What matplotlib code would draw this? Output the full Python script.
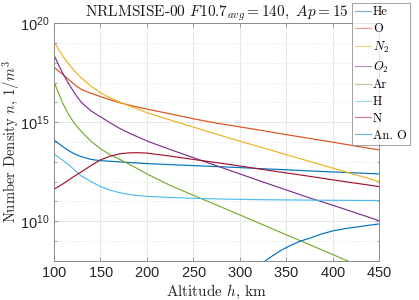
import numpy as np
import matplotlib
matplotlib.use("Agg")
import matplotlib.pyplot as plt
from matplotlib.ticker import FixedLocator, FixedFormatter, NullFormatter

plt.rcParams['mathtext.fontset'] = 'cm'
plt.rcParams['font.family'] = ['Liberation Sans', 'DejaVu Sans']
plt.rcParams['axes.formatter.use_mathtext'] = True

# Altitude grid (km)
alt = [100, 105, 110, 115, 120, 125, 130, 140, 150, 160, 170, 180, 190, 200,
       225, 250, 275, 300, 325, 350, 375, 400, 425, 450]

# log10 of number density (1/m^3)
he = [14.11, 13.92, 13.75, 13.59, 13.45, 13.34, 13.25, 13.12, 13.06, 13.03, 13.00, 12.97, 12.94, 12.91,
      12.86, 12.81, 12.76, 12.71, 12.65, 12.60, 12.54, 12.49, 12.44, 12.39]
o = [17.77, 17.58, 17.38, 17.18, 16.98, 16.79, 16.64, 16.45, 16.29, 16.13, 15.99, 15.87, 15.76, 15.66,
     15.42, 15.17, 14.95, 14.76, 14.57, 14.37, 14.18, 13.99, 13.79, 13.60]
n2 = [19.06, 18.67, 18.30, 17.98, 17.69, 17.43, 17.21, 16.80, 16.49, 16.24, 16.02, 15.84, 15.66, 15.48,
      15.11, 14.75, 14.39, 14.04, 13.70, 13.36, 13.02, 12.68, 12.34, 12.00]
o2 = [18.39, 17.88, 17.42, 17.00, 16.62, 16.27, 15.97, 15.56, 15.27, 14.98, 14.70, 14.47, 14.26, 14.05,
      13.62, 13.21, 12.80, 12.39, 11.98, 11.58, 11.18, 10.81, 10.42, 10.03]
ar = [17.04, 16.45, 15.90, 15.45, 15.07, 14.76, 14.50, 14.03, 13.66, 13.37, 13.14, 12.90, 12.65, 12.39,
      11.81, 11.31, 10.82, 10.32, 9.82, 9.32, 8.82, 8.32, 7.82, 7.32]
h = [13.39, 13.23, 13.06, 12.88, 12.68, 12.46, 12.27, 12.00, 11.75, 11.58, 11.45, 11.36, 11.30, 11.26,
     11.20, 11.16, 11.13, 11.11, 11.09, 11.08, 11.07, 11.06, 11.055, 11.05]
n = [11.62, 11.76, 11.90, 12.06, 12.22, 12.37, 12.51, 12.82, 13.10, 13.28, 13.40, 13.45, 13.46, 13.44,
     13.29, 13.12, 12.96, 12.79, 12.61, 12.44, 12.27, 12.09, 11.92, 11.75]

alt_ano = [320, 327, 335, 345, 355, 365, 375, 387, 400, 414, 425, 437, 450]
ano = [7.76, 8.00, 8.26, 8.56, 8.80, 9.00, 9.15, 9.35, 9.52, 9.64, 9.71, 9.79, 9.87]

labels = ['He', 'O', '$N_2$', '$O_2$', 'Ar', 'H', 'N', 'An. O']
colors = ['#0072BD', '#D95319', '#EDB120', '#7E2F8E', '#77AC30', '#4DBEEE', '#A2142F', '#0072BD']

xticks = [100, 150, 200, 250, 300, 350, 400, 450]
yticks_major = [1e10, 1e15, 1e20]
ytick_labels = [r'$\mathdefault{10^{10}}$', r'$\mathdefault{10^{15}}$', r'$\mathdefault{10^{20}}$']

fig = plt.figure(figsize=(4.19, 3.0), dpi=100)
ax = fig.add_axes([54/419, 1-261/300, (379.4-54)/419, (261-23)/300])

series = [(alt, he), (alt, o), (alt, n2), (alt, o2), (alt, ar), (alt, h), (alt, n), (alt_ano, ano)]
for (xa, ya), lab, c in zip(series, labels, colors):
    ax.plot(xa, np.power(10.0, ya), color=c, lw=0.85, label=lab)

ax.set_yscale('log')
ax.set_xlim(100, 450)
ax.set_ylim(1e8, 1e20)

ax.xaxis.set_major_locator(FixedLocator(xticks))
ax.yaxis.set_major_locator(FixedLocator(yticks_major))
ax.yaxis.set_major_formatter(FixedFormatter(ytick_labels))
ax.yaxis.set_minor_locator(FixedLocator([10.0**k for k in range(8, 21)]))
ax.yaxis.set_minor_formatter(NullFormatter())

spine_c = '#8a8a8a'
for s in ax.spines.values():
    s.set_color(spine_c)
    s.set_linewidth(0.7)
ax.tick_params(which='both', direction='in', top=True, right=True, color=spine_c,
               labelcolor='#262626', labelsize=10.5)
ax.tick_params(which='major', length=3, width=0.6)
ax.tick_params(which='minor', length=1.8, width=0.5)

ax.grid(True, which='major', axis='both', color='#e3e3e3', lw=0.6, ls='-')
ax.grid(True, which='minor', axis='y', color='#dcdcdc', lw=0.6, ls=(0, (1, 2)))
ax.set_axisbelow(True)

ax.set_title(r'NRLMSISE-00 $F10.7_{avg}=140,\ Ap=15$', family='cmr10', fontsize=11,
             color='#1a1a1a', pad=4)
ax.set_xlabel(r'Altitude $h$, km', family='cmr10', fontsize=11, color='#262626', labelpad=2)
ax.set_ylabel(r'Number Density $n$, $1/m^3$', family='cmr10', fontsize=10.5, color='#262626')
ax.yaxis.set_label_coords(-0.098, 0.5)

leg = fig.legend(loc='upper right', bbox_to_anchor=(410/419, 1-3/300), bbox_transform=fig.transFigure,
                 prop={'family': 'cmr10', 'size': 9}, frameon=True, fancybox=False,
                 borderaxespad=0, handlelength=1.3, handletextpad=0.15, labelspacing=0.37,
                 borderpad=0.25)
leg.get_frame().set_edgecolor('#8a8a8a')
leg.get_frame().set_linewidth(0.7)
for lh in leg.get_lines():
    lh.set_alpha(0.55)

fig.savefig('out.png', dpi=100)
